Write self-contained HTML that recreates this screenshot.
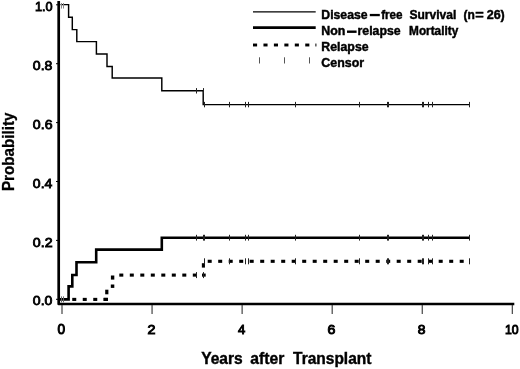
<!DOCTYPE html><html><head><meta charset="utf-8"><title>Survival</title><style>html,body{margin:0;padding:0;background:#fff}svg{display:block}text{font-family:"Liberation Sans",sans-serif;font-weight:bold;fill:#000}</style></head><body>
<svg width="520" height="369" viewBox="0 0 520 369">
<rect width="520" height="369" fill="#fff"/>
<path d="M58.7 1 V304.0 H514.3" fill="none" stroke="#000" stroke-width="2.7" stroke-linejoin="round"/>
<line x1="56" x2="58" y1="299.30" y2="299.30" stroke="#000" stroke-width="1"/>
<line x1="56" x2="58" y1="240.40" y2="240.40" stroke="#000" stroke-width="1"/>
<line x1="56" x2="58" y1="181.50" y2="181.50" stroke="#000" stroke-width="1"/>
<line x1="56" x2="58" y1="122.60" y2="122.60" stroke="#000" stroke-width="1"/>
<line x1="56" x2="58" y1="63.70" y2="63.70" stroke="#000" stroke-width="1"/>
<line x1="56" x2="58" y1="4.80" y2="4.80" stroke="#000" stroke-width="1"/>
<line x1="62.00" x2="62.00" y1="305" y2="314" stroke="#333" stroke-width="1.1"/>
<line x1="152.06" x2="152.06" y1="305" y2="314" stroke="#333" stroke-width="1.1"/>
<line x1="242.12" x2="242.12" y1="305" y2="314" stroke="#333" stroke-width="1.1"/>
<line x1="332.18" x2="332.18" y1="305" y2="314" stroke="#333" stroke-width="1.1"/>
<line x1="422.24" x2="422.24" y1="305" y2="314" stroke="#333" stroke-width="1.1"/>
<line x1="512.30" x2="512.30" y1="305" y2="314" stroke="#333" stroke-width="1.1"/>
<path d="M60.5 4.6 L68.6 4.6 L68.6 17.2 L72.3 17.2 L72.3 29.6 L76.8 29.6 L76.8 41.6 L96.4 41.6 L96.4 53.9 L107 53.9 L107 66.4 L112.2 66.4 L112.2 78 L161.8 78 L161.8 90.8 L203.2 90.8 L203.2 104.6 L469.4 104.6" fill="none" stroke="#000" stroke-width="1.45"/>
<path d="M60 299.4 L68.6 299.4 L68.6 286.4 L72.3 286.4 L72.3 275 L76.5 275 L76.5 262.3 L96.2 262.3 L96.2 249.6 L161.8 249.6 L161.8 237.7 L469.4 237.7" fill="none" stroke="#000" stroke-width="2.6"/>
<rect x="72.25" y="297.85" width="4.00" height="3.1" fill="#000"/>
<rect x="82.75" y="297.85" width="4.00" height="3.1" fill="#000"/>
<rect x="93.25" y="297.85" width="4.00" height="3.1" fill="#000"/>
<rect x="103.75" y="297.85" width="4.00" height="3.1" fill="#000"/>
<rect x="103.50" y="297.85" width="4.50" height="3.1" fill="#000"/>
<rect x="105.20" y="289.70" width="3.2" height="4.60" fill="#000"/>
<rect x="110.80" y="284.50" width="3.50" height="3.4" fill="#000"/>
<rect x="110.90" y="275.50" width="3.4" height="4.10" fill="#000"/>
<rect x="119.30" y="273.55" width="4.00" height="3.1" fill="#000"/>
<rect x="129.80" y="273.55" width="4.00" height="3.1" fill="#000"/>
<rect x="140.30" y="273.55" width="4.00" height="3.1" fill="#000"/>
<rect x="150.80" y="273.55" width="4.00" height="3.1" fill="#000"/>
<rect x="161.30" y="273.55" width="4.00" height="3.1" fill="#000"/>
<rect x="171.80" y="273.55" width="4.00" height="3.1" fill="#000"/>
<rect x="182.30" y="273.55" width="4.00" height="3.1" fill="#000"/>
<rect x="192.80" y="273.55" width="4.00" height="3.1" fill="#000"/>
<rect x="202.00" y="273.55" width="3.70" height="3.1" fill="#000"/>
<rect x="201.85" y="263.20" width="3.1" height="4.40" fill="#000"/>
<rect x="207.70" y="259.75" width="4.00" height="3.1" fill="#000"/>
<rect x="218.20" y="259.75" width="4.00" height="3.1" fill="#000"/>
<rect x="228.70" y="259.75" width="4.00" height="3.1" fill="#000"/>
<rect x="239.20" y="259.75" width="4.00" height="3.1" fill="#000"/>
<rect x="249.70" y="259.75" width="4.00" height="3.1" fill="#000"/>
<rect x="260.20" y="259.75" width="4.00" height="3.1" fill="#000"/>
<rect x="270.70" y="259.75" width="4.00" height="3.1" fill="#000"/>
<rect x="281.20" y="259.75" width="4.00" height="3.1" fill="#000"/>
<rect x="291.70" y="259.75" width="4.00" height="3.1" fill="#000"/>
<rect x="302.20" y="259.75" width="4.00" height="3.1" fill="#000"/>
<rect x="312.70" y="259.75" width="4.00" height="3.1" fill="#000"/>
<rect x="323.20" y="259.75" width="4.00" height="3.1" fill="#000"/>
<rect x="333.70" y="259.75" width="4.00" height="3.1" fill="#000"/>
<rect x="344.20" y="259.75" width="4.00" height="3.1" fill="#000"/>
<rect x="354.70" y="259.75" width="4.00" height="3.1" fill="#000"/>
<rect x="365.20" y="259.75" width="4.00" height="3.1" fill="#000"/>
<rect x="375.70" y="259.75" width="4.00" height="3.1" fill="#000"/>
<rect x="386.20" y="259.75" width="4.00" height="3.1" fill="#000"/>
<rect x="396.70" y="259.75" width="4.00" height="3.1" fill="#000"/>
<rect x="407.20" y="259.75" width="4.00" height="3.1" fill="#000"/>
<rect x="417.70" y="259.75" width="4.00" height="3.1" fill="#000"/>
<rect x="428.20" y="259.75" width="4.00" height="3.1" fill="#000"/>
<rect x="438.70" y="259.75" width="4.00" height="3.1" fill="#000"/>
<rect x="449.20" y="259.75" width="4.00" height="3.1" fill="#000"/>
<rect x="459.70" y="259.75" width="4.00" height="3.1" fill="#000"/>
<line x1="61.5" x2="61.5" y1="3.05" y2="8.55" stroke="#888" stroke-width="1"/>
<line x1="61.5" x2="61.5" y1="296.40" y2="302.40" stroke="#666" stroke-width="1"/>
<line x1="63.5" x2="63.5" y1="3.05" y2="8.55" stroke="#888" stroke-width="1"/>
<line x1="63.5" x2="63.5" y1="296.40" y2="302.40" stroke="#666" stroke-width="1"/>
<line x1="196.5" x2="196.5" y1="88.10" y2="93.50" stroke="#222" stroke-width="1"/>
<line x1="196.5" x2="196.5" y1="234.80" y2="240.60" stroke="#222" stroke-width="1"/>
<line x1="196.5" x2="196.5" y1="272.10" y2="278.10" stroke="#222" stroke-width="1"/>
<line x1="203.5" x2="203.5" y1="88.10" y2="93.50" stroke="#222" stroke-width="1"/>
<line x1="203.5" x2="203.5" y1="234.80" y2="240.60" stroke="#222" stroke-width="1"/>
<line x1="203.5" x2="203.5" y1="272.10" y2="278.10" stroke="#222" stroke-width="1"/>
<line x1="204.5" x2="204.5" y1="101.90" y2="107.30" stroke="#222" stroke-width="1"/>
<line x1="204.5" x2="204.5" y1="234.80" y2="240.60" stroke="#222" stroke-width="1"/>
<line x1="204.5" x2="204.5" y1="258.30" y2="264.30" stroke="#222" stroke-width="1"/>
<line x1="229.5" x2="229.5" y1="101.90" y2="107.30" stroke="#222" stroke-width="1"/>
<line x1="229.5" x2="229.5" y1="234.80" y2="240.60" stroke="#222" stroke-width="1"/>
<line x1="229.5" x2="229.5" y1="258.30" y2="264.30" stroke="#222" stroke-width="1"/>
<line x1="245.5" x2="245.5" y1="101.90" y2="107.30" stroke="#222" stroke-width="1"/>
<line x1="245.5" x2="245.5" y1="234.80" y2="240.60" stroke="#222" stroke-width="1"/>
<line x1="245.5" x2="245.5" y1="258.30" y2="264.30" stroke="#222" stroke-width="1"/>
<line x1="248.5" x2="248.5" y1="101.90" y2="107.30" stroke="#222" stroke-width="1"/>
<line x1="248.5" x2="248.5" y1="234.80" y2="240.60" stroke="#222" stroke-width="1"/>
<line x1="248.5" x2="248.5" y1="258.30" y2="264.30" stroke="#222" stroke-width="1"/>
<line x1="295.5" x2="295.5" y1="101.90" y2="107.30" stroke="#222" stroke-width="1"/>
<line x1="295.5" x2="295.5" y1="234.80" y2="240.60" stroke="#222" stroke-width="1"/>
<line x1="295.5" x2="295.5" y1="258.30" y2="264.30" stroke="#222" stroke-width="1"/>
<line x1="359.5" x2="359.5" y1="101.90" y2="107.30" stroke="#222" stroke-width="1"/>
<line x1="359.5" x2="359.5" y1="234.80" y2="240.60" stroke="#222" stroke-width="1"/>
<line x1="359.5" x2="359.5" y1="258.30" y2="264.30" stroke="#222" stroke-width="1"/>
<line x1="387.5" x2="387.5" y1="101.90" y2="107.30" stroke="#222" stroke-width="1"/>
<line x1="387.5" x2="387.5" y1="234.80" y2="240.60" stroke="#222" stroke-width="1"/>
<line x1="387.5" x2="387.5" y1="258.30" y2="264.30" stroke="#222" stroke-width="1"/>
<line x1="388.5" x2="388.5" y1="101.90" y2="107.30" stroke="#222" stroke-width="1"/>
<line x1="388.5" x2="388.5" y1="234.80" y2="240.60" stroke="#222" stroke-width="1"/>
<line x1="388.5" x2="388.5" y1="258.30" y2="264.30" stroke="#222" stroke-width="1"/>
<line x1="422.5" x2="422.5" y1="101.90" y2="107.30" stroke="#222" stroke-width="1"/>
<line x1="422.5" x2="422.5" y1="234.80" y2="240.60" stroke="#222" stroke-width="1"/>
<line x1="422.5" x2="422.5" y1="258.30" y2="264.30" stroke="#222" stroke-width="1"/>
<line x1="423.5" x2="423.5" y1="101.90" y2="107.30" stroke="#222" stroke-width="1"/>
<line x1="423.5" x2="423.5" y1="234.80" y2="240.60" stroke="#222" stroke-width="1"/>
<line x1="423.5" x2="423.5" y1="258.30" y2="264.30" stroke="#222" stroke-width="1"/>
<line x1="428.5" x2="428.5" y1="101.90" y2="107.30" stroke="#222" stroke-width="1"/>
<line x1="428.5" x2="428.5" y1="234.80" y2="240.60" stroke="#222" stroke-width="1"/>
<line x1="428.5" x2="428.5" y1="258.30" y2="264.30" stroke="#222" stroke-width="1"/>
<line x1="432.5" x2="432.5" y1="101.90" y2="107.30" stroke="#222" stroke-width="1"/>
<line x1="432.5" x2="432.5" y1="234.80" y2="240.60" stroke="#222" stroke-width="1"/>
<line x1="432.5" x2="432.5" y1="258.30" y2="264.30" stroke="#222" stroke-width="1"/>
<line x1="469.5" x2="469.5" y1="101.90" y2="107.30" stroke="#222" stroke-width="1"/>
<line x1="469.5" x2="469.5" y1="234.80" y2="240.60" stroke="#222" stroke-width="1"/>
<line x1="469.5" x2="469.5" y1="258.30" y2="264.30" stroke="#222" stroke-width="1"/>
<line x1="253" x2="315.7" y1="11.8" y2="11.8" stroke="#000" stroke-width="1.3"/>
<line x1="253" x2="315.7" y1="27.6" y2="27.6" stroke="#000" stroke-width="2.6"/>
<rect x="253.00" y="43.55" width="4.10" height="2.9" fill="#000"/>
<rect x="263.45" y="43.55" width="4.10" height="2.9" fill="#000"/>
<rect x="273.90" y="43.55" width="4.10" height="2.9" fill="#000"/>
<rect x="284.35" y="43.55" width="4.10" height="2.9" fill="#000"/>
<rect x="294.80" y="43.55" width="4.10" height="2.9" fill="#000"/>
<rect x="305.25" y="43.55" width="4.10" height="2.9" fill="#000"/>
<rect x="315.40" y="43.55" width="1.00" height="2.9" fill="#000"/>
<line x1="259.5" x2="259.5" y1="57.30" y2="63.50" stroke="#555" stroke-width="1"/>
<line x1="284.5" x2="284.5" y1="57.30" y2="63.50" stroke="#555" stroke-width="1"/>
<line x1="309.5" x2="309.5" y1="57.30" y2="63.50" stroke="#555" stroke-width="1"/>
<text transform="translate(321.33,18.6) scale(0.9872,1)" font-size="12.4" stroke="#000" stroke-width="0.45">Disease</text>
<rect x="369.8" y="13.9" width="10" height="2.3" fill="#000"/>
<text transform="translate(381.15,18.6) scale(0.9420,1)" font-size="12.4" stroke="#000" stroke-width="0.45">free</text>
<text transform="translate(409.46,18.6) scale(0.9714,1)" font-size="12.4" stroke="#000" stroke-width="0.45">Survival</text>
<text transform="translate(463.52,18.6) scale(0.9706,1)" font-size="12.4" stroke="#000" stroke-width="0.45">(n</text>
<text transform="translate(475.24,18.6) scale(1.1737,1)" font-size="12.4" stroke="#000" stroke-width="0.45">=</text>
<text transform="translate(486.69,18.6) scale(1.0110,1)" font-size="12.4" stroke="#000" stroke-width="0.45">26)</text>
<text transform="translate(321.32,34.9) scale(0.9992,1)" font-size="12.4" stroke="#000" stroke-width="0.45">Non</text>
<rect x="347" y="30.5" width="9.6" height="2.4" fill="#000"/>
<text transform="translate(357.52,34.9) scale(0.9926,1)" font-size="12.4" stroke="#000" stroke-width="0.45">relapse</text>
<text transform="translate(409.06,34.9) scale(0.9522,1)" font-size="12.4" stroke="#000" stroke-width="0.45">Mortality</text>
<text transform="translate(321.32,51.2) scale(0.9943,1)" font-size="12.4" stroke="#000" stroke-width="0.45">Relapse</text>
<text transform="translate(321.33,67.3) scale(1.0003,1)" font-size="12.4" stroke="#000" stroke-width="0.45">Censor</text>
<text transform="translate(32.86,305.1) scale(1.0589,1)" font-size="13.3" style="font-weight:normal" stroke="#000" stroke-width="0.85">0.0</text>
<text transform="translate(32.86,246.6) scale(1.0671,1)" font-size="13.3" style="font-weight:normal" stroke="#000" stroke-width="0.85">0.2</text>
<text transform="translate(32.87,187.6) scale(1.0509,1)" font-size="13.3" style="font-weight:normal" stroke="#000" stroke-width="0.85">0.4</text>
<text transform="translate(32.86,129.0) scale(1.0630,1)" font-size="13.3" style="font-weight:normal" stroke="#000" stroke-width="0.85">0.6</text>
<text transform="translate(32.86,70.4) scale(1.0589,1)" font-size="13.3" style="font-weight:normal" stroke="#000" stroke-width="0.85">0.8</text>
<text transform="translate(34.97,11.05) scale(0.9583,1)" font-size="13.3" style="font-weight:normal" stroke="#000" stroke-width="0.85">1.0</text>
<text transform="translate(57.55,334.45) scale(0.9988,1)" font-size="13.7" style="font-weight:normal" stroke="#000" stroke-width="1.0">0</text>
<text transform="translate(147.45,334.45) scale(1.0428,1)" font-size="13.7" style="font-weight:normal" stroke="#000" stroke-width="1.0">2</text>
<text transform="translate(237.90,334.45) scale(0.9489,1)" font-size="13.7" style="font-weight:normal" stroke="#000" stroke-width="1.0">4</text>
<text transform="translate(327.57,334.45) scale(1.0314,1)" font-size="13.7" style="font-weight:normal" stroke="#000" stroke-width="1.0">6</text>
<text transform="translate(417.72,334.45) scale(1.0095,1)" font-size="13.7" style="font-weight:normal" stroke="#000" stroke-width="1.0">8</text>
<text transform="translate(504.88,334.45) scale(0.8950,1)" font-size="13.7" style="font-weight:normal" stroke="#000" stroke-width="1.0">10</text>
<text transform="translate(201.19,363.9) scale(0.9626,1)" font-size="16.2" stroke="#000" stroke-width="0.4">Years</text>
<text transform="translate(250.33,363.9) scale(0.9702,1)" font-size="16.2" stroke="#000" stroke-width="0.4">after</text>
<text transform="translate(293.04,363.9) scale(0.9575,1)" font-size="16.2" stroke="#000" stroke-width="0.4">Transplant</text>
<text transform="translate(13.9,190.99) rotate(-90) scale(0.9365,1)" font-size="16.2" stroke="#000" stroke-width="0.3">Probability</text>
</svg></body></html>
